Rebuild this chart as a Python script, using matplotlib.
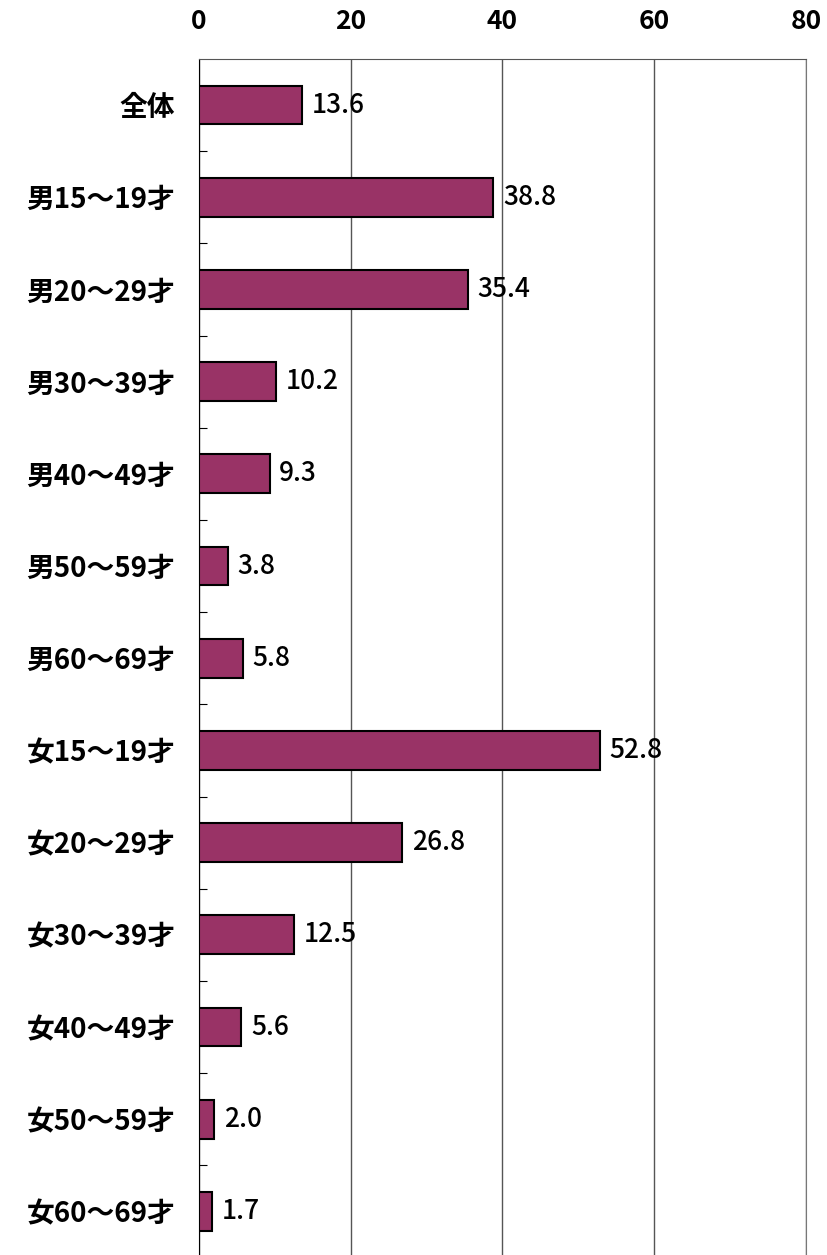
import numpy as np
import matplotlib.pyplot as plt

plt.rcParams['font.family'] = ['Noto Sans CJK JP', 'DejaVu Sans']

categories = ['全体', '男15～19才', '男20～29才', '男30～39才', '男40～49才', '男50～59才',
              '男60～69才', '女15～19才', '女20～29才', '女30～39才', '女40～49才',
              '女50～59才', '女60～69才']
values = [13.6, 38.8, 35.4, 10.2, 9.3, 3.8, 5.8, 52.8, 26.8, 12.5, 5.6, 2.0, 1.7]
xticks = [0, 20, 40, 60, 80]

fig = plt.figure(figsize=(8.28, 12.55), dpi=100)
ax = fig.add_axes([0.2403, -0.002, 0.7331, 0.955])

y = np.arange(len(categories))
ax.barh(y, values, height=0.42, color='#993366', edgecolor='black', linewidth=1.5, zorder=3)

for yi, v in zip(y, values):
    ax.annotate(f'{v:.1f}', (v, yi), xytext=(7, 0), textcoords='offset points',
                va='center', ha='left', fontsize=19, fontweight='medium', zorder=4)

ax.set_xlim(0, 80)
ax.set_ylim(len(categories) - 0.5, -0.5)
ax.set_xticks(xticks)
ax.set_xticklabels([str(t) for t in xticks], fontsize=19, fontweight='bold')
ax.xaxis.tick_top()
ax.tick_params(axis='x', length=0, pad=17)
ax.set_yticks(y)
ax.set_yticklabels(categories, fontsize=20, fontweight='bold')
ax.tick_params(axis='y', length=0, pad=17)
ax.set_yticks(np.arange(0.5, len(categories) - 0.5, 1), minor=True)
ax.tick_params(axis='y', which='minor', direction='in', length=6, width=0.8)

ax.grid(axis='x', color='#555555', linewidth=1, zorder=0)
ax.spines['bottom'].set_visible(False)
ax.spines['top'].set_color('#555555')
ax.spines['right'].set_color('#777777')
ax.spines['left'].set_color('black')

fig.savefig('out.png', dpi=100)
